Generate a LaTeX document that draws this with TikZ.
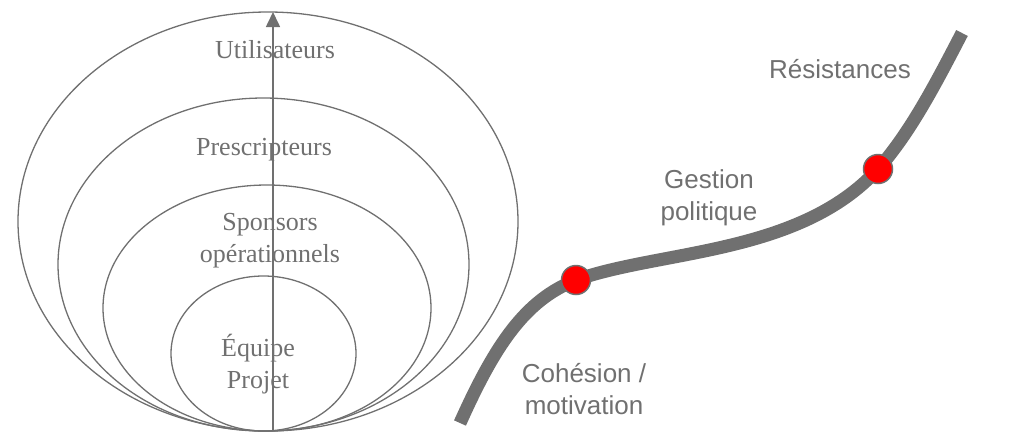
\documentclass[tikz,border=0pt]{standalone}
\usepackage{fontspec}
\setmainfont{Liberation Serif}
\newfontfamily\labelsans{Liberation Sans}
\usetikzlibrary{arrows.meta}
\definecolor{ink}{HTML}{707070}
\tikzset{
  ring/.style={draw=ink, line width=1.3pt},
  serlabel/.style={text=ink, font=\fontsize{26}{32}\selectfont, align=center, inner sep=0pt},
  sanslabel/.style={text=ink, font=\labelsans\fontsize{26}{32}\selectfont, align=center, inner sep=0pt},
  reddot/.style={circle, fill=red, draw=ink, line width=1.5pt, minimum size=29pt, inner sep=0pt},
  road/.style={draw=ink, line width=13pt, line cap=butt}
}
\begin{document}
\begin{tikzpicture}[x=1pt,y=-1pt]
\useasboundingbox (0,0) rectangle (1027,432);
% nested ellipses
\draw[ring] (268,221.5) ellipse [x radius=250, y radius=209.5];
\draw[ring] (263.5,264.5) ellipse [x radius=205.5, y radius=166.5];
\draw[ring] (267,308) ellipse [x radius=164, y radius=123];
\draw[ring] (263.5,353.5) ellipse [x radius=92.5, y radius=77.5];
% axis arrow
\coordinate (base) at (273,431);
\coordinate (apex) at (273,12);
\draw[draw=ink, line width=1.6pt, -{Triangle[length=15pt,width=14pt]}] (base) -- (apex);
% serif labels
\node[serlabel] (util) at (275,50) {Utilisateurs};
\node[serlabel] (presc) at (264,150) {Prescripteurs};
\node[serlabel] (spons) at (270,241) {Sponsors\\opérationnels};
\node[serlabel] (equipe) at (258,364) {Équipe\\Projet};
% curve
\coordinate (start) at (460,423);
\coordinate (finish) at (962,33);
\draw[road] (start) .. controls (495,345) and (525,300) .. (576,280)
  .. controls (660,250) and (800,255) .. (878,169)
  .. controls (910,133) and (935,85) .. (finish);
\node[reddot] (d1) at (576,280) {};
\node[reddot] (d2) at (878,169) {};
% sans labels
\node[sanslabel] (coh) at (584,389) {Cohésion /\\motivation};
\node[sanslabel] (gest) at (709,198) {Gestion\\politique};
\node[sanslabel] (res) at (840,69) {Résistances};
\end{tikzpicture}
\end{document}
